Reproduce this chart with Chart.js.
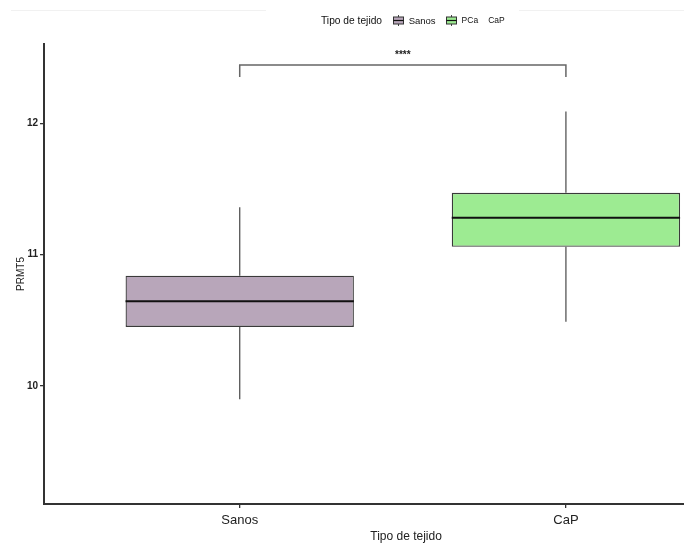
<!DOCTYPE html>
<html>
<head>
<meta charset="utf-8">
<script src="https://cdn.jsdelivr.net/npm/chart.js@4/dist/chart.umd.min.js"></script>
<style>
  html, body { margin: 0; padding: 0; background: #fff; }
  #wrap { position: relative; width: 684px; height: 545px; font-family: "Liberation Sans", Arial, sans-serif; }
  canvas { position: absolute; left: 0; top: 0; }
  .rule { position: absolute; top: 10px; height: 1px; background: #f1f1f1; }
  #legend { position: absolute; top: 13px; left: 321px; height: 14px; display: flex; align-items: center; white-space: nowrap; color: #111; }
  #legend .ttl { font-size: 11px; transform: scaleX(0.93); transform-origin: left center; margin-right: 6px; }
  #legend .key { display: inline-block; width: 11px; height: 11px; margin-right: 5px; }
  #legend .lab { margin-right: 10px; }
</style>
</head>
<body>
<div id="wrap">
  <div class="rule" style="left:11px;width:255px"></div>
  <div class="rule" style="left:519px;width:165px"></div>
  <canvas id="c" width="684" height="545"></canvas>
  <div id="legend"></div>
</div>
<script>
// Tissue groups and PRMT5 expression summary (box-and-whisker statistics)
const categories = ['Sanos', 'CaP'];
const whiskerLow  = [9.90, 10.49];
const q1          = [10.45, 11.06];
const median      = [10.645, 11.28];
const q3          = [10.84, 11.47];
const whiskerHigh = [11.36, 12.09];
const yTicks = [10, 11, 12];

// Legend entries and colours
const legendTitle = 'Tipo de tejido';
const legendLabels = ['Sanos', 'PCa', 'CaP'];
const fillColors = ['#b8a6ba', '#9deb92'];

// Significance bracket between the groups
const bracketTop = 12.443;
const bracketFoot = 12.352;
const starLevel = 12.52;
const sigLabel = '****';

const boxWidth = 0.70;
const half = boxWidth / 2;
const FONT = '"Liberation Sans", Arial, sans-serif';

const datasets = [];
categories.forEach((name, i) => {
  datasets.push({
    type: 'line', order: 0, data: [{x: i - half, y: median[i]}, {x: i + half, y: median[i]}],
    borderColor: '#111', borderWidth: 2, pointRadius: 0
  });
  datasets.push({
    type: 'line', order: 1, data: [{x: i, y: q3[i]}, {x: i, y: whiskerHigh[i]}],
    borderColor: '#555', borderWidth: 1.3, pointRadius: 0
  });
  datasets.push({
    type: 'line', order: 1, data: [{x: i, y: whiskerLow[i]}, {x: i, y: q1[i]}],
    borderColor: '#555', borderWidth: 1.3, pointRadius: 0
  });
});
datasets.push({
  type: 'line', order: 1,
  data: [{x: 0, y: bracketFoot}, {x: 0, y: bracketTop}, {x: 1, y: bracketTop}, {x: 1, y: bracketFoot}],
  borderColor: '#666', borderWidth: 1.5, pointRadius: 0
});
datasets.push({
  type: 'bar', order: 2,
  data: categories.map((n, i) => ({x: i, y: [q1[i], q3[i]]})),
  backgroundColor: fillColors, borderColor: '#3a3a3a', borderWidth: 1.3,
  borderSkipped: false, categoryPercentage: 1, barPercentage: boxWidth
});

// Significance stars and the x-axis title, placed through the scales
const annotate = {
  id: 'annotate',
  afterDraw(chart) {
    const {ctx, scales: {x, y}} = chart;
    ctx.save();
    ctx.fillStyle = '#222';
    ctx.textAlign = 'center';
    ctx.textBaseline = 'middle';
    ctx.font = 'bold 10px ' + FONT;
    ctx.fillText(sigLabel, x.getPixelForValue(0.5), y.getPixelForValue(starLevel));
    ctx.font = '12px ' + FONT;
    ctx.fillStyle = '#222';
    ctx.fillText(legendTitle, x.getPixelForValue(0.51), chart.height - 8);
    ctx.restore();
  }
};

new Chart(document.getElementById('c'), {
  type: 'bar',
  data: { datasets },
  options: {
    responsive: false,
    animation: false,
    layout: { padding: { top: 44, right: 0, left: 0, bottom: 0 } },
    plugins: { legend: { display: false }, tooltip: { enabled: false } },
    scales: {
      x: {
        type: 'linear', min: -0.6, max: 1.362, offset: false,
        afterBuildTicks: s => { s.ticks = [0, 1].map(v => ({value: v})); },
        afterFit: s => { s.height = 41; },
        ticks: { callback: v => categories[v], color: '#222', font: { family: FONT, size: 13 }, padding: 5, maxRotation: 0 },
        grid: { display: true, offset: false, drawOnChartArea: false, drawTicks: true, tickLength: 4, color: '#333', lineWidth: 1.3 },
        border: { display: true, color: '#333', width: 2 }
      },
      y: {
        type: 'linear', min: 9.102, max: 12.603,
        afterBuildTicks: s => { s.ticks = yTicks.map(v => ({value: v})); },
        afterFit: s => { s.width = 44; },
        ticks: { color: '#222', font: { family: FONT, size: 10, weight: 'bold' }, padding: 2 },
        grid: { display: true, drawOnChartArea: false, drawTicks: true, tickLength: 4, color: '#333', lineWidth: 1.3 },
        border: { display: true, color: '#333', width: 2 },
        title: { display: true, text: 'PRMT5', color: '#222', font: { family: FONT, size: 10 }, padding: { top: 15, bottom: 0 } }
      }
    }
  },
  plugins: [annotate]
});

// Legend: title followed by box-plot keys
function keySvg(color) {
  return '<svg class="key" viewBox="0 0 11 11" width="11" height="11">' +
    '<line x1="5.5" y1="0" x2="5.5" y2="2" stroke="#444" stroke-width="1"/>' +
    '<line x1="5.5" y1="9" x2="5.5" y2="11" stroke="#444" stroke-width="1"/>' +
    '<rect x="0.5" y="2" width="10" height="7" fill="' + color + '" stroke="#333" stroke-width="1"/>' +
    '<line x1="0.5" y1="5.5" x2="10.5" y2="5.5" stroke="#111" stroke-width="1.2"/>' +
    '</svg>';
}
const lg = document.getElementById('legend');
lg.innerHTML =
  '<span class="ttl">' + legendTitle + '</span>' +
  keySvg(fillColors[0]) + '<span class="lab" style="font-size:9.5px">' + legendLabels[0] + '</span>' +
  keySvg(fillColors[1]) + '<span class="lab" style="font-size:8.5px">' + legendLabels[1] + '</span>' +
  '<span class="lab" style="font-size:8.5px">' + legendLabels[2] + '</span>';
</script>
</body>
</html>
